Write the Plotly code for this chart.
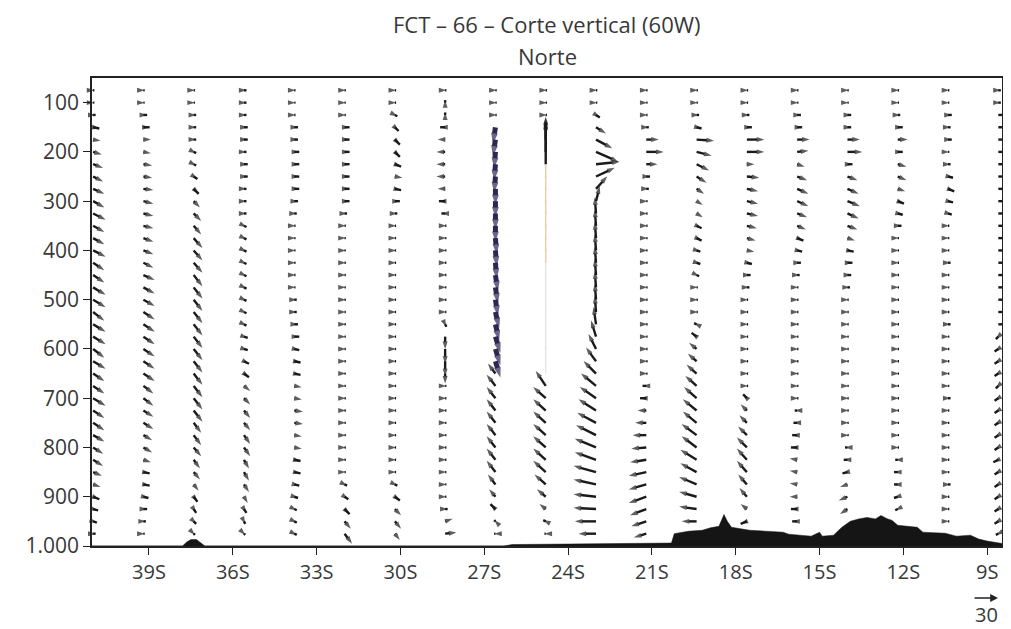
import plotly.graph_objects as go

# ---------------- data ----------------
LEVELS = [75, 100, 125, 150, 175, 200, 225, 250, 275, 300, 325, 350, 375, 400, 425, 450, 475,
          500, 525, 550, 575, 600, 625, 650, 675, 700, 725, 750, 775, 800, 825, 850, 875, 900,
          925, 950, 975]

COLUMN_LATS = [-41.0, -39.2, -37.4, -35.6, -33.8, -32.0, -30.2, -28.4, -26.6, -24.8,
               -23.0, -21.2, -19.4, -17.6, -15.8, -14.0, -12.2, -10.4, -8.6]

# V: meridional component (+ = north / right), W: vertical component (+ = downward on chart)
V00 = [1,1,2,5,6,7,8,8,9,9,10,9,9,10,9,9,10,10,9,10,10,9,10,9,9,10,9,9,9,8,8,7,6,5,4,3,2]
W00 = [0,0,0,1,1,2,3,4,4,5,5,5,5,5,6,6,6,6,7,6,6,7,6,6,6,6,6,6,5,5,5,3,2,2,1,1,0]
V01 = [1,1,3,5,6,6,7,7,8,8,8,8,8,8,8,9,9,9,9,9,9,9,9,9,8,8,8,8,7,7,6,5,5,4,3,2,1]
W01 = [0,0,0,0,0,1,1,1,1,2,2,2,3,3,4,4,5,5,6,6,6,6,6,6,6,6,5,5,4,4,2,1,1,1,0,0,0]
V02 = [1,1,2,2,2,2,2,3,4,5,6,6,7,7,7,7,7,7,7,7,7,7,7,7,7,7,7,6,6,6,5,5,4,3,2,2,1]
W02 = [0,0,0,0,0,1,1,2,4,5,6,7,8,8,8,9,9,9,9,9,9,9,9,9,9,9,9,8,8,7,7,6,5,4,3,2,1]
V03 = [2,2,2,3,3,2,3,3,2,2,2,2,2,2,2,2,2,2,2,2,3,3,4,4,5,5,5,5,5,5,4,4,4,3,2,1,1]
W03 = [0,0,0,0,0,0,0,0,0,0,0,1,1,1,1,1,1,1,1,1,1,1,2,3,4,5,6,6,7,7,7,7,6,5,3,2,1]
V04 = [1,1,1,3,3,4,4,4,4,3,2,1,1,1,1,1,1,2,2,3,4,4,5,5,6,6,7,7,6,6,5,5,4,3,2,2,2]
W04 = [0,0,0,0,0,0,0,0,0,0,0,0,0,0,0,0,0,0,0,0,0,1,1,1,1,1,1,1,1,1,1,1,1,1,1,1,1]
V05 = [1,1,1,4,4,4,4,4,4,4,2,1,1,1,1,1,1,1,1,1,1,1,1,1,1,1,1,1,1,1,1,1,2,3,4,5,6]
W05 = [0,0,0,0,0,0,0,0,0,0,0,0,0,0,0,0,0,0,0,0,0,0,0,0,0,0,0,0,0,0,0,0,1,2,4,6,8]
V06 = [1,1,2,3,4,4,5,6,5,4,2,1,1,1,1,1,1,1,1,1,1,1,1,1,1,1,1,1,1,1,1,1,2,4,5,5,4]
W06 = [0,0,1,3,4,4,2,1,1,0,0,0,0,0,0,0,0,0,0,0,0,0,0,0,0,0,0,0,0,0,0,0,1,3,5,6,5]
V07 = [1,0,0,-4,-6,-7,-7,-7,-6,-5,-3,1,1,1,1,1,1,1,1,1,0,0,0,0,1,1,1,1,1,1,1,1,1,1,2,6,9]
W07 = [0,-2,-2,0,0,0,0,0,0,0,0,0,0,0,0,0,0,0,0,2,10,12,12,8,0,0,0,0,0,0,0,0,0,0,0,-2,-1]
V08 = [1,1,1,-2,-2,-1,-1,-1,0,0,0,0,1,1,1,2,2,2,3,3,4,4,4,-6,-7,-7,-7,-7,-7,-7,-7,-7,-6,-5,-4,-1,-1]
W08 = [0,0,0,13,13,13,13,13,13,13,13,13,13,13,13,13,13,13,13,13,13,13,13,
       -8,-9,-9,-9,-9,-9,-9,-9,-9,-8,-6,-4,-1,0]
V09 = [1,1,1,0,0,0,0,0,0,0,0,0,0,0,0,0,0,0,0,0,0,0,0,0,-8,-10,-10,-10,-10,-10,-10,-10,-9,-7,-5,-2,-1]
W09 = [0,0,0,-4,-15,-27,-38,-12,-12,-12,-12,-12,-12,-12,-12,-12,-12,-12,-12,-12,-12,-12,-12,-12,
       -12,-9,-9,-9,-9,-9,-9,-9,-8,-6,-4,-1,0]
V10 = [1,1,3,8,13,18,19,15,9,3,-1,-1,-1,-1,-1,-1,-1,-1,-1,-2,-4,-6,-8,-10,-12,-13,-14,-15,-16,-17,
       -17,-18,-18,-18,-18,-17,-14]
W10 = [0,0,2,5,7,8,-2,-7,-10,-12,-13,-13,-13,-13,-13,-13,-13,-13,-13,-14,-13,-12,-11,-10,-10,-9,-9,
       -8,-8,-7,-6,-5,-4,-2,-1,0,0]
V11 = [1,1,1,2,10,14,9,3,2,1,1,1,1,1,1,1,1,1,1,1,1,1,1,1,-3,-5,-7,-9,-11,-12,-13,-14,-14,-14,-13,-12,-10]
W11 = [0,0,0,0,0,0,0,0,0,0,0,0,0,0,0,0,0,0,0,0,0,0,0,0,0,0,0,0,0,1,2,3,4,5,5,4,3]
V12 = [1,1,2,4,14,12,10,8,6,5,5,4,4,3,3,2,1,1,1,-2,-4,-6,-7,-8,-9,-10,-11,-11,-12,-12,-13,-13,-14,-14,-14,-12]
W12 = [0,0,0,1,1,3,5,5,4,3,3,2,2,1,1,1,0,0,0,-1,-3,-5,-6,-7,-8,-9,-9,-9,-9,-9,-8,-7,-6,-4,-2,0]
V13 = [1,1,2,4,14,14,6,10,9,9,9,8,7,6,4,3,2,1,1,1,1,1,1,1,1,-3,-5,-6,-7,-8,-8,-8,-7,-6,-5,-5]
W13 = [0,0,0,0,0,0,0,1,2,2,2,2,2,1,1,0,0,0,0,0,0,0,0,0,0,-3,-5,-6,-7,-8,-9,-9,-8,-7,-4,2]
V14 = [1,1,3,4,10,9,6,8,9,9,8,7,5,4,3,2,1,1,1,1,1,1,1,1,1,1,-2,-3,-4,-5,-6,-6,-6,-6,-5,-4]
W14 = [0,0,0,0,0,-1,2,3,4,4,3,3,2,1,0,0,0,0,0,0,0,0,0,0,0,0,0,0,0,0,-1,-1,-1,0,0,0]
V15 = [1,1,3,3,10,12,4,8,9,10,9,8,6,5,4,3,2,1,1,1,1,1,1,1,1,1,1,1,1,-2,-3,-4,-6,-7,-6]
W15 = [0,0,0,0,0,0,0,3,4,4,4,3,2,1,0,0,0,0,0,0,0,0,0,0,0,0,0,0,0,0,0,1,2,3,4]
V16 = [1,1,2,4,8,4,7,7,6,5,4,3,1,1,1,1,1,1,1,1,1,1,1,1,1,1,1,1,1,1,-2,-3,-3,-3,-2]
W16 = [0,0,0,0,0,0,2,3,2,2,1,0,0,0,0,0,0,0,0,0,0,0,0,0,0,0,0,0,0,0,0,0,0,1,1]
V17 = [1,1,3,2,3,1,2,4,5,4,3,1,1,1,2,1,1,1,1,2,1,1,1,1,1,2,1,1,1,1,1,1,2,1,1,1]
W17 = [0,0,0,0,0,0,0,1,2,1,1,0,0,0,0,0,0,0,0,0,0,0,0,0,0,0,0,0,0,0,0,0,0,0,0,0]
V18 = [2,2,3,4,4,5,4,4,5,4,4,5,4,4,4,5,4,4,3,3,-2,-3,-3,-3,-2,-3,-3,-3,-3,-3,-4,-3,-3,-3,-3,-3,-2]
W18 = [0,0,0,0,0,0,0,0,0,0,0,0,0,0,0,0,0,0,0,0,2,2,2,2,2,2,2,2,2,2,2,2,2,2,2,2,1]

V_COLS = [V00, V01, V02, V03, V04, V05, V06, V07, V08, V09, V10, V11, V12, V13, V14, V15, V16, V17, V18]
W_COLS = [W00, W01, W02, W03, W04, W05, W06, W07, W08, W09, W10, W11, W12, W13, W14, W15, W16, W17, W18]

# surface (terrain) pressure along the section
TERRAIN_LAT = [-41.05, -37.8, -37.65, -37.5, -37.3, -37.15, -37.0, -26.3, -26.0, -24.0, -22.0, -20.3,
               -20.2, -19.7, -19.2, -18.9, -18.6, -18.5, -18.42, -18.3, -18.15, -17.5, -16.8, -16.3,
               -16.1, -15.3, -15.0, -14.9, -14.5, -14.2, -13.9, -13.6, -13.3, -13.0, -12.8, -12.6,
               -12.4, -12.2, -11.5, -11.3, -10.5, -10.1, -9.6, -9.3, -9.0, -8.45]
TERRAIN_P = [1000, 1000, 992, 987, 987, 993, 1000, 1000, 997, 996, 995, 994,
             975, 970, 968, 963, 960, 945, 936, 950, 962, 968, 970, 972,
             976, 980, 972, 980, 978, 962, 950, 945, 942, 945, 938, 944,
             948, 958, 962, 972, 974, 980, 978, 986, 990, 995]

X_TICKS = [-39, -36, -33, -30, -27, -24, -21, -18, -15, -12, -9]
X_TICKTEXT = ["39S", "36S", "33S", "30S", "27S", "24S", "21S", "18S", "15S", "12S", "9S"]
Y_TICKS = [100, 200, 300, 400, 500, 600, 700, 800, 900, 1000]
Y_TICKTEXT = ["100", "200", "300", "400", "500", "600", "700", "800", "900", "1.000"]
KEY_VALUE = "30"

# ---------------- geometry ----------------
# the page body has an 8px margin, so the figure is laid out 8px smaller / offset
BODY = 8
W_PX, H_PX = 1011 - BODY, 629 - BODY
PLOT_L, PLOT_T = 92, 78            # plot area position in the screenshot
PLOT_W, PLOT_H = 912, 468
ML, MT = PLOT_L - BODY, PLOT_T - BODY
MR = W_PX - ML - PLOT_W
MB = H_PX - MT - PLOT_H
PX_PER_DEG = 28.0
X0 = -41.04
X_RANGE = [X0, X0 + PLOT_W / PX_PER_DEG]
Y_TOP, Y_BOT = 50, 1000
PX_PER_HPA = PLOT_H / (Y_BOT - Y_TOP)
SCALE = 1.25  # px per unit

BLACK = "#1a1a1a"
PURPLE = "#2c2853"
ORANGE = "#e9c29c"
PALE = "#e4e0dc"
FONT = "Open Sans"
TXT = "#383838"


def style_for(col, p):
    if col == 8 and 150 <= p <= 625:
        return PURPLE
    if col == 9 and 250 <= p <= 425:
        return ORANGE
    if col == 9 and 450 <= p <= 650:
        return PALE
    return BLACK


groups = {}
for ci, (lat, V, W) in enumerate(zip(COLUMN_LATS, V_COLS, W_COLS)):
    for k, (v, w) in enumerate(zip(V, W)):
        p = LEVELS[k]
        c = style_for(ci, p)
        g = groups.setdefault(c, {"x": [], "y": [], "s": []})
        x1 = lat + v * SCALE / PX_PER_DEG
        y1 = p + w * SCALE / PX_PER_HPA
        head = {BLACK: 8, PURPLE: 11, ORANGE: 4, PALE: 4}[c]
        g["x"] += [lat, x1, None]
        g["y"] += [p, y1, None]
        g["s"] += [0, head, 0]

fig = go.Figure()

# terrain
fig.add_trace(go.Scatter(
    x=TERRAIN_LAT + [X_RANGE[1], X_RANGE[0]],
    y=TERRAIN_P + [Y_BOT, Y_BOT],
    fill="toself", fillcolor="#151515", mode="lines",
    line=dict(color="#151515", width=0.5), hoverinfo="skip", showlegend=False))

widths = {BLACK: 2.4, PURPLE: 5, ORANGE: 1.2, PALE: 1.2}
for c in [PALE, ORANGE, BLACK, PURPLE]:
    if c not in groups:
        continue
    g = groups[c]
    fig.add_trace(go.Scatter(
        x=g["x"], y=g["y"], mode="lines+markers",
        line=dict(color=c, width=widths[c]),
        marker=dict(symbol="arrow", size=g["s"], angleref="previous", color=c,
                    line=dict(width=0)),
        hoverinfo="skip", showlegend=False, cliponaxis=False))

fig.update_layout(
    width=W_PX, height=H_PX, autosize=False,
    margin=dict(l=ML, r=MR, t=MT, b=MB, pad=0),
    paper_bgcolor="white", plot_bgcolor="white",
    font=dict(family=FONT, color=TXT, size=20),
    showlegend=False,
    xaxis=dict(range=X_RANGE, showgrid=False, zeroline=False, showline=True,
               linecolor="#222", linewidth=1.5, mirror=True,
               ticks="outside", ticklen=7, tickwidth=1.2, tickcolor="#222",
               tickvals=X_TICKS, ticktext=X_TICKTEXT, tickfont=dict(size=20, color=TXT)),
    yaxis=dict(range=[Y_BOT, Y_TOP], showgrid=False, zeroline=False, showline=True,
               linecolor="#222", linewidth=1.5, mirror=True,
               ticks="outside", ticklen=7, tickwidth=1.2, tickcolor="#222",
               tickvals=Y_TICKS, ticktext=Y_TICKTEXT, tickfont=dict(size=21, color=TXT)),
)

fig.add_annotation(text="FCT – 66 – Corte vertical (60W)", xref="paper", yref="paper",
                   x=0.5, y=1 + (PLOT_T - 24) / PLOT_H, xanchor="center", yanchor="middle",
                   showarrow=False, font=dict(size=22, color=TXT, family=FONT))
fig.add_annotation(text="Norte", xref="paper", yref="paper",
                   x=0.5, y=1 + (PLOT_T - 56) / PLOT_H, xanchor="center", yanchor="middle",
                   showarrow=False, font=dict(size=22, color=TXT, family=FONT))

# reference vector key
PLOT_B = PLOT_T + PLOT_H
fig.add_annotation(text="", xref="paper", yref="paper",
                   x=(1000 - PLOT_L) / PLOT_W, y=-(598 - PLOT_B) / PLOT_H,
                   ax=-25, ay=0, showarrow=True, arrowhead=2, arrowsize=1.2,
                   arrowwidth=1.3, arrowcolor="#222")
fig.add_annotation(text=KEY_VALUE, xref="paper", yref="paper",
                   x=(988 - PLOT_L) / PLOT_W, y=-(614 - PLOT_B) / PLOT_H,
                   xanchor="center", yanchor="middle", showarrow=False,
                   font=dict(size=20, color=TXT, family=FONT))

fig.write_html("out.html")
